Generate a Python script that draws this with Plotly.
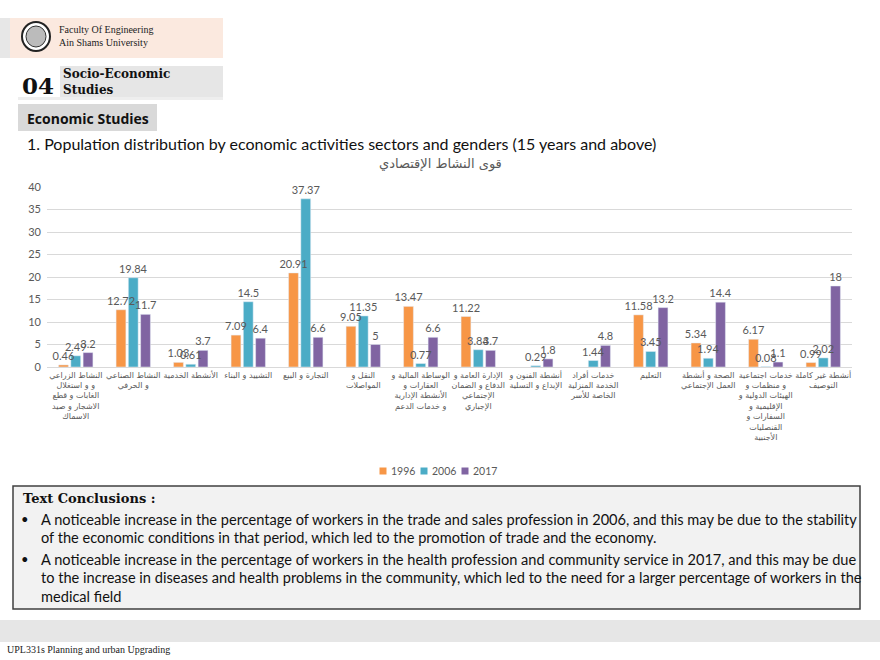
import plotly.graph_objects as go

W, H = 880, 660

categories = [
    "النشاط الزراعي<br>و و استغلال<br>الغابات و قطع<br>الاشجار و صيد<br>الاسماك",
    "النشاط الصناعي<br>و الحرفي",
    "الأنشطة الخدمية",
    "التشييد و البناء",
    "التجارة و البيع",
    "النقل و<br>المواصلات",
    "الوساطة المالية و<br>العقارات و<br>الأنشطة الإدارية<br>و خدمات الدعم",
    "الإدارة العامة و<br>الدفاع و الضمان<br>الإجتماعي<br>الإجباري",
    "أنشطة الفنون و<br>الإبداع و التسلية",
    "خدمات أفراد<br>الخدمة المنزلية<br>الخاصة للأسر",
    "التعليم",
    "الصحة و أنشطة<br>العمل الإجتماعي",
    "خدمات اجتماعية<br>و منظمات و<br>الهيئات الدولية و<br>الإقليمية و<br>السفارات و<br>القنصليات<br>الأجنبية",
    "أنشطة غير كاملة<br>التوصيف",
]
series_names = ["1996", "2006", "2017"]
values_1996 = [0.46, 12.72, 1.03, 7.09, 20.91, 9.05, 13.47, 11.22, None, None, 11.58, 5.34, 6.17, 0.99]
values_2006 = [2.49, 19.84, 0.61, 14.5, 37.37, 11.35, 0.77, 3.84, 0.29, 1.44, 3.45, 1.94, 0.08, 2.02]
values_2017 = [3.2, 11.7, 3.7, 6.4, 6.6, 5, 6.6, 3.7, 1.8, 4.8, 13.2, 14.4, 1.1, 18]
colors = ["#F79646", "#4BACC6", "#8064A2"]

chart_title = "قوى النشاط الإقتصادي"
main_title = "1. Population distribution by economic activities sectors and genders (15 years and above)"
bullets = [
    ["A noticeable increase in the percentage of workers in the trade and sales profession in 2006, and this may be due to the stability",
     "of the economic conditions in that period, which led to the promotion of trade and the economy."],
    ["A noticeable increase in the percentage of workers in the health profession and community service in 2017, and this may be due",
     "to the increase in diseases and health problems in the community, which led to the need for a larger percentage of workers in the",
     "medical field"],
]


def px(x):
    return x / W


def py(y):
    return 1 - y / H


all_values = [values_1996, values_2006, values_2017]
xs = list(range(len(categories)))

fig = go.Figure()
# real bars
for name, vals, col in zip(series_names, all_values, colors):
    fig.add_trace(go.Bar(
        x=xs, y=vals, name=name, marker_color=col, offsetgroup=name,
        showlegend=False, hoverinfo="y+name",
    ))
# label layer drawn above all bars (same slots, transparent)
for name, vals in zip(series_names, all_values):
    fig.add_trace(go.Bar(
        x=xs, y=vals, name=name, offsetgroup=name, showlegend=False,
        marker=dict(color="rgba(0,0,0,0)", line=dict(width=0)),
        text=[("" if v is None else f"{v:g}") for v in vals],
        textposition="outside", cliponaxis=False, constraintext="none",
        textfont=dict(size=11, color="#595959", family="Lato"), hoverinfo="skip",
    ))

shapes = []
annotations = []

# custom legend
leg_marker_x = [383, 424, 465]
for name, col, lx in zip(series_names, colors, leg_marker_x):
    shapes.append(dict(type="rect", xref="paper", yref="paper", x0=px(lx - 3.5), x1=px(lx + 3.5),
                       y0=py(474.5), y1=py(467.5), fillcolor=col, line=dict(width=0)))
    annotations.append(dict(text=name, x=px(lx + 6), y=py(471), xref="paper", yref="paper",
                            xanchor="left", yanchor="middle", showarrow=False,
                            font=dict(family="Lato", size=10.5, color="#595959")))

# header peach box and left grey strip
shapes.append(dict(type="rect", xref="paper", yref="paper", x0=px(0), x1=px(10), y0=py(58), y1=py(18),
                   fillcolor="#E7E7E7", line=dict(width=0), layer="below"))
shapes.append(dict(type="rect", xref="paper", yref="paper", x0=px(10), x1=px(223), y0=py(58), y1=py(18),
                   fillcolor="#FBE9DF", line=dict(width=0), layer="below"))
# logo
shapes.append(dict(type="circle", xref="paper", yref="paper", x0=px(22), x1=px(50), y0=py(51), y1=py(22),
                   fillcolor="#FFFFFF", line=dict(width=2, color="#222222"), layer="below"))
shapes.append(dict(type="circle", xref="paper", yref="paper", x0=px(26), x1=px(46), y0=py(47), y1=py(26),
                   fillcolor="#BBBBBB", line=dict(width=1, color="#333333"), layer="below"))
annotations.append(dict(text="Faculty Of Engineering<br>Ain Shams University", x=px(57), y=py(36), xref="paper", yref="paper",
                        xanchor="left", yanchor="middle", showarrow=False, align="left",
                        font=dict(family="Liberation Serif", size=10, color="#222222")))
# 04 section box
shapes.append(dict(type="rect", xref="paper", yref="paper", x0=px(60), x1=px(223), y0=py(97), y1=py(66),
                   fillcolor="#E6E6E6", line=dict(width=0), layer="below"))
shapes.append(dict(type="rect", xref="paper", yref="paper", x0=px(18), x1=px(223), y0=py(100), y1=py(97),
                   fillcolor="#EEEEEE", line=dict(width=0), layer="below"))
annotations.append(dict(text="<b>04</b>", x=px(20), y=py(85), xref="paper", yref="paper",
                        xanchor="left", yanchor="middle", showarrow=False,
                        font=dict(family="DejaVu Serif", size=23, color="#111111")))
annotations.append(dict(text="<b>Socio-Economic<br>Studies</b>", x=px(61), y=py(82), xref="paper", yref="paper",
                        xanchor="left", yanchor="middle", showarrow=False, align="left",
                        font=dict(family="DejaVu Serif", size=12, color="#111111")))
# Economic Studies box
shapes.append(dict(type="rect", xref="paper", yref="paper", x0=px(18), x1=px(157), y0=py(131), y1=py(104),
                   fillcolor="#D9D9D9", line=dict(width=0), layer="below"))
annotations.append(dict(text="<b>Economic Studies</b>", x=px(25), y=py(118), xref="paper", yref="paper",
                        xanchor="left", yanchor="middle", showarrow=False,
                        font=dict(family="Open Sans", size=14, color="#111111")))
annotations.append(dict(text=main_title, x=px(25), y=py(144), xref="paper", yref="paper",
                        xanchor="left", yanchor="middle", showarrow=False,
                        font=dict(family="Lato", size=16, color="#111111")))
annotations.append(dict(text=chart_title, x=px(440), y=py(164), xref="paper", yref="paper",
                        xanchor="center", yanchor="middle", showarrow=False,
                        font=dict(family="DejaVu Sans", size=13, color="#595959")))

# Conclusions box
shapes.append(dict(type="rect", xref="paper", yref="paper", x0=px(13), x1=px(860), y0=py(609), y1=py(486),
                   fillcolor="#F2F2F2", line=dict(width=1.5, color="#404040"), layer="below"))
annotations.append(dict(text="<b>Text Conclusions :</b>", x=px(21), y=py(498), xref="paper", yref="paper",
                        xanchor="left", yanchor="middle", showarrow=False,
                        font=dict(family="DejaVu Serif", size=13, color="#111111")))
line_y = [[519, 537], [559, 577, 596]]
for blines, ys in zip(bullets, line_y):
    annotations.append(dict(text="•", x=px(19), y=py(ys[0]), xref="paper", yref="paper",
                            xanchor="left", yanchor="middle", showarrow=False,
                            font=dict(family="Lato", size=13, color="#111111")))
    for t, yy in zip(blines, ys):
        annotations.append(dict(text=t, x=px(39), y=py(yy), xref="paper", yref="paper",
                                xanchor="left", yanchor="middle", showarrow=False,
                                font=dict(family="Lato", size=14.6, color="#111111")))

# footer
shapes.append(dict(type="rect", xref="paper", yref="paper", x0=0, x1=1, y0=py(642), y1=py(620),
                   fillcolor="#E6E6E6", line=dict(width=0), layer="below"))
annotations.append(dict(text="UPL331s Planning and urban Upgrading", x=px(5), y=py(649), xref="paper", yref="paper",
                        xanchor="left", yanchor="middle", showarrow=False,
                        font=dict(family="Liberation Serif", size=10, color="#222222")))

fig.update_layout(
    width=W, height=H, margin=dict(l=0, r=0, t=0, b=0, autoexpand=False),
    paper_bgcolor="white", plot_bgcolor="white",
    barmode="group", bargap=0.36, bargroupgap=0.2,
    showlegend=False,
    shapes=shapes, annotations=annotations,
    xaxis=dict(domain=[px(47), px(852)], tickmode="array", tickvals=xs,
               ticktext=categories, tickangle=0, range=[-0.5, len(categories) - 0.5],
               tickfont=dict(family="DejaVu Sans", size=8, color="#595959"),
               showline=True, linecolor="#D9D9D9", showgrid=False, ticks="", automargin=False),
    yaxis=dict(domain=[py(367), py(187)], range=[0, 40], dtick=5, showgrid=True, gridcolor="#D9D9D9",
               zeroline=False, tickfont=dict(family="Lato", size=11, color="#595959"),
               ticks="", automargin=False, ticklabelstandoff=5),
)

fig.write_html("out.html")
